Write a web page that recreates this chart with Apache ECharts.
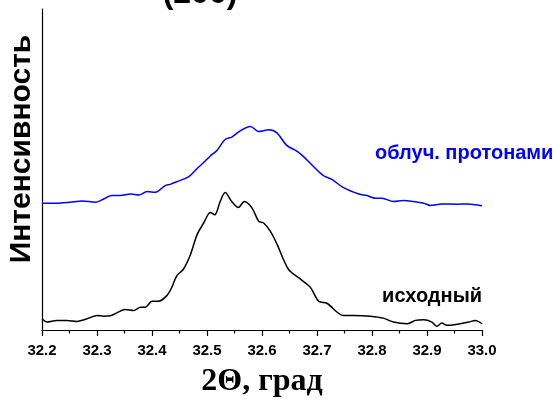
<!DOCTYPE html>
<html>
<head>
<meta charset="utf-8">
<script src="https://cdn.jsdelivr.net/npm/echarts@6/dist/echarts.min.js"></script>
<style>html,body{margin:0;padding:0;background:#fff}#c{width:553px;height:403px}</style>
</head>
<body>
<div id="c"></div>
<script>
// 2Theta (deg) values and relative intensity (arb. units)
const irradiatedX = [32.200,32.227,32.251,32.273,32.297,32.309,32.327,32.342,32.361,32.376,32.391,32.406,32.424,32.433,32.448,32.467,32.482,32.494,32.506,32.518,32.533,32.545,32.561,32.579,32.594,32.612,32.627,32.645,32.664,32.676,32.694,32.712,32.727,32.748,32.776,32.791,32.806,32.818,32.839,32.857,32.894,32.906,32.927,32.955,32.973,33.000];
const irradiatedY = [128,128,129,130.3,129,131.3,135.7,135.7,137.3,136.3,139.7,139,145.7,147,150.3,154.7,163,169,175.7,181.3,192.3,194.7,201.3,205.3,200.3,202,199,186.3,180.3,174.7,164.7,155.7,152,143.7,137.3,135.7,133,133,129.7,130.7,128,125.7,127.3,127,127.3,125.3];
const originalX = [32.200,32.209,32.227,32.245,32.264,32.276,32.285,32.300,32.312,32.324,32.336,32.351,32.367,32.379,32.388,32.400,32.412,32.427,32.436,32.445,32.457,32.470,32.482,32.494,32.506,32.514,32.524,32.533,32.545,32.557,32.568,32.582,32.594,32.603,32.615,32.627,32.648,32.670,32.688,32.703,32.718,32.748,32.767,32.797,32.821,32.839,32.864,32.879,32.894,32.909,32.918,32.927,32.936,32.960,32.976,32.988,33.000];
const originalY = [11.3,8,9.7,9.7,8.7,10.3,12,14.7,14,14.3,17.3,20.7,19.7,23,23,29,29,34.7,43,54.7,61.3,76.3,96.3,108,118.7,116.3,129.7,138.7,129.7,123.7,129.7,123,109.7,108,99.7,87,61.3,51.3,43,29,27,14.7,14.7,14,12,8,6.3,9.7,10.3,8,3.7,7,4.7,6.3,8,9.7,6.3];
const xTicks = ['32.2','32.3','32.4','32.5','32.6','32.7','32.8','32.9','33.0'];
const seriesNames = ['облуч. протонами','исходный'];

const zip = (xs, ys) => xs.map((x, i) => [x, ys[i]]);
const sans = '"Liberation Sans", Arial, sans-serif';
const serif = '"Liberation Serif", "Times New Roman", serif';

const chart = echarts.init(document.getElementById('c'), null, {renderer: 'canvas'});
chart.setOption({
  animation: false,
  backgroundColor: '#fff',
  grid: {left: 42, right: 71, top: 9, bottom: 70},
  xAxis: {
    type: 'value', min: 32.2, max: 33.0, interval: 0.1,
    name: '2Θ, град', nameLocation: 'middle', nameGap: 36,
    nameTextStyle: {fontFamily: serif, fontWeight: 'bold', fontSize: 32, color: '#000'},
    axisLine: {show: true, onZero: false, lineStyle: {color: '#000', width: 1.2}},
    axisTick: {show: true, inside: false, length: 6, lineStyle: {color: '#000', width: 1.2}},
    minorTick: {show: true, splitNumber: 2, length: 3.5, lineStyle: {color: '#000', width: 1.2}},
    splitLine: {show: false},
    axisLabel: {
      margin: 13, fontFamily: sans, fontWeight: 'bold', fontSize: 15, color: '#000',
      formatter: v => xTicks[Math.round((v - 32.2) * 10)] ?? v.toFixed(1)
    }
  },
  yAxis: {
    type: 'value', min: 0, max: 324,
    axisLine: {show: true, lineStyle: {color: '#000', width: 1.2}},
    axisTick: {show: false}, axisLabel: {show: false}, splitLine: {show: false}
  },
  series: [
    {name: seriesNames[0], type: 'line', data: zip(irradiatedX, irradiatedY), showSymbol: false,
     smooth: 0.3, lineStyle: {color: '#0000ff', width: 1.5}, itemStyle: {color: '#0000ff'}},
    {name: seriesNames[1], type: 'line', data: zip(originalX, originalY), showSymbol: false,
     smooth: 0.3, lineStyle: {color: '#000', width: 1.5}, itemStyle: {color: '#000'}}
  ],
  graphic: [
    {type: 'text', x: 22, y: 149, rotation: Math.PI / 2,
     style: {text: 'Интенсивность', font: 'bold 30px ' + sans, fill: '#000', align: 'center', verticalAlign: 'middle'}},
    {type: 'text', x: 200, y: -6,
     style: {text: '(200)', font: 'bold 32px ' + sans, fill: '#000', align: 'center', verticalAlign: 'middle'}},
    {type: 'text', x: 375, y: 153,
     style: {text: seriesNames[0], font: 'bold 20px ' + sans, fill: '#0000ff', align: 'left', verticalAlign: 'middle'}},
    {type: 'text', x: 482, y: 296,
     style: {text: seriesNames[1], font: 'bold 20px ' + sans, fill: '#000', align: 'right', verticalAlign: 'middle'}}
  ]
});
</script>
</body>
</html>
